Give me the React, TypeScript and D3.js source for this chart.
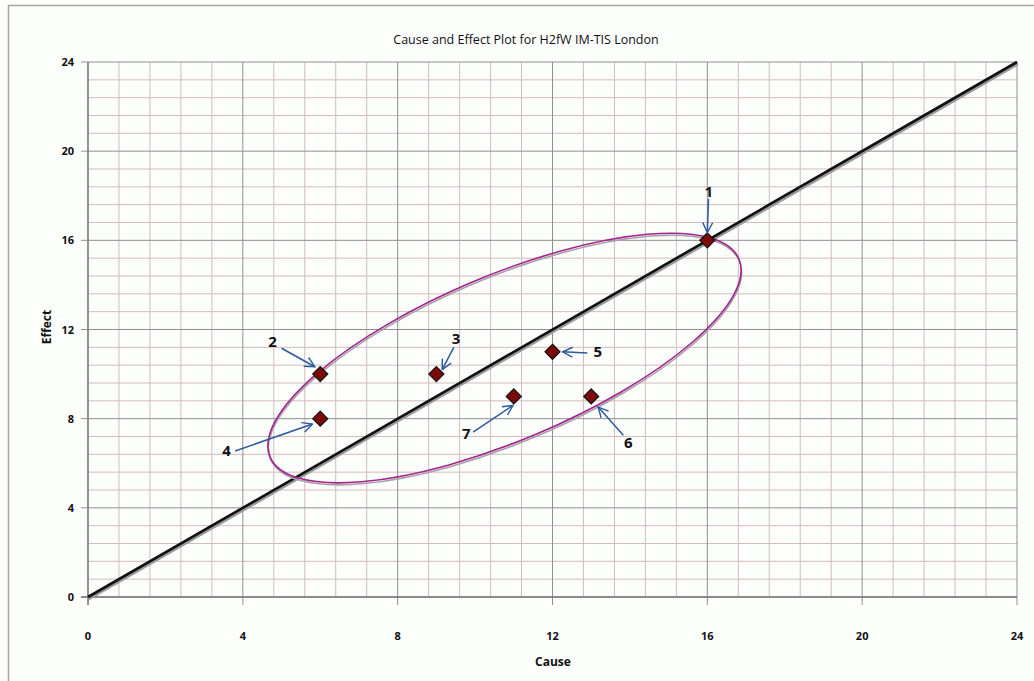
import React from "react";
import * as d3 from "d3";

const title = "Cause and Effect Plot for H2fW IM-TIS London";
const xTitle = "Cause";
const yTitle = "Effect";
const tickValues = [0, 4, 8, 12, 16, 20, 24];
const minorStep = 0.8;

const pointIds = ["1", "2", "3", "4", "5", "6", "7"];
const causeValues = [16, 6, 9, 6, 12, 13, 11];
const effectValues = [16, 10, 10, 8, 11, 9, 9];

// label positions & arrow tips in data units
const labelCause = [16.04, 4.77, 9.51, 3.58, 13.17, 13.96, 9.77];
const labelEffect = [18.18, 11.45, 11.6, 6.56, 11.0, 6.92, 7.34];
const arrowStartCause = [16.03, 5.0, 9.45, 3.8, 12.9, 13.83, 9.95];
const arrowStartEffect = [17.86, 11.16, 11.2, 6.55, 10.95, 7.26, 7.4];
const arrowEndCause = [16.0, 5.86, 9.15, 5.8, 12.26, 13.18, 10.98];
const arrowEndEffect = [16.35, 10.33, 10.2, 7.76, 11.0, 8.52, 8.6];

// ellipse: center (data units), radii in px, rotation in degrees
const ellipseCenter = [10.76, 10.72];
const ellipseRx = 254.5;
const ellipseRy = 82.5;
const ellipseAngle = -22.9;

const W = 1034;
const H = 681;

export default function App() {
  const x = d3.scaleLinear().domain([0, 24]).range([88, 1017]);
  const y = d3.scaleLinear().domain([0, 24]).range([597, 62]);
  const minor = d3.range(0, 24.0001, minorStep).filter((v) => Math.abs(v / 4 - Math.round(v / 4)) > 1e-6);
  const font = "'Open Sans', 'Noto Sans', sans-serif";
  const blue = "#2c5a9e";
  const [cx, cy] = ellipseCenter;
  const diag = d3.line<number>().x((d) => x(d)).y((d) => y(d))([0, 24]) || "";

  return (
    <svg width={W} height={H} style={{ position: "absolute", left: 0, top: 0, background: "#fcfefc" }}>
      <defs>
        <marker id="arr" viewBox="0 0 12 12" refX="11" refY="6" markerWidth="12" markerHeight="12" markerUnits="userSpaceOnUse" orient="auto">
          <path d="M1,1 L11,6 L1,11" fill="none" stroke={blue} strokeWidth={1.4} />
        </marker>
      </defs>
      <rect x={0} y={0} width={W} height={H} fill="#fcfefc" />
      {/* outer chart border */}
      <path d="M8.5,681 L8.5,5.5 L1034,5.5" fill="none" stroke="#aaa5a0" strokeWidth={1.5} />

      {/* minor grid */}
      {minor.map((v) => (
        <g key={"m" + v}>
          <line x1={x(v)} x2={x(v)} y1={y(0)} y2={y(24)} stroke="#d2bcbc" strokeWidth={1} />
          <line x1={x(0)} x2={x(24)} y1={y(v)} y2={y(v)} stroke="#d2bcbc" strokeWidth={1} />
        </g>
      ))}
      {/* major grid */}
      {tickValues.map((v) => (
        <g key={"M" + v}>
          <line x1={x(v)} x2={x(v)} y1={y(0) + 8} y2={y(24)} stroke="#8f8f8f" strokeWidth={1} />
          <line x1={x(0) - 7} x2={x(24)} y1={y(v)} y2={y(v)} stroke="#8f8f8f" strokeWidth={1} />
        </g>
      ))}
      {/* axes */}
      <line x1={x(0)} x2={x(0)} y1={y(0) + 8} y2={y(24)} stroke="#777" strokeWidth={1.3} />
      <line x1={x(0) - 7} x2={x(24)} y1={y(0)} y2={y(0)} stroke="#777" strokeWidth={1.3} />

      {/* tick labels */}
      {tickValues.map((v) => (
        <text key={"xt" + v} x={x(v)} y={640} textAnchor="middle" fontFamily={font} fontWeight="bold" fontSize={11} fill="#111">
          {v}
        </text>
      ))}
      {tickValues.map((v) => (
        <text key={"yt" + v} x={74} y={y(v) + 4} textAnchor="end" fontFamily={font} fontWeight="bold" fontSize={11} fill="#111">
          {v}
        </text>
      ))}

      {/* titles */}
      <text x={526} y={44} textAnchor="middle" fontFamily={font} fontSize={12.5} fill="#111">
        {title}
      </text>
      <text x={553} y={666} textAnchor="middle" fontFamily={font} fontWeight="bold" fontSize={12} fill="#111">
        {xTitle}
      </text>
      <text transform={`translate(51,327) rotate(-90)`} textAnchor="middle" fontFamily={font} fontWeight="bold" fontSize={12} fill="#111">
        {yTitle}
      </text>

      {/* diagonal line with shadow */}
      <path d={diag} transform="translate(0.5,1.8)" stroke="#9a9a9a" strokeWidth={3.5} fill="none" />
      <path d={diag} stroke="#111" strokeWidth={2.6} fill="none" />

      {/* ellipse with shadow */}
      <ellipse
        cx={0}
        cy={0}
        rx={ellipseRx}
        ry={ellipseRy}
        transform={`translate(${x(cx) + 0.5},${y(cy) + 2}) rotate(${ellipseAngle})`}
        fill="none"
        stroke="#a8a0a8"
        strokeWidth={1.6}
      />
      <ellipse
        cx={0}
        cy={0}
        rx={ellipseRx}
        ry={ellipseRy}
        transform={`translate(${x(cx)},${y(cy)}) rotate(${ellipseAngle})`}
        fill="none"
        stroke="#a3238f"
        strokeWidth={1.6}
      />

      {/* markers */}
      {pointIds.map((id, i) => {
        const px = x(causeValues[i]);
        const py = y(effectValues[i]);
        const s = 7.5;
        return (
          <path
            key={"p" + id}
            d={`M${px},${py - s} L${px + s},${py} L${px},${py + s} L${px - s},${py} Z`}
            fill="#7c0a0a"
            stroke="#111"
            strokeWidth={1.2}
          />
        );
      })}

      {/* arrows and labels */}
      {pointIds.map((id, i) => (
        <g key={"a" + id}>
          <line
            x1={x(arrowStartCause[i])}
            y1={y(arrowStartEffect[i])}
            x2={x(arrowEndCause[i])}
            y2={y(arrowEndEffect[i])}
            stroke={blue}
            strokeWidth={1.5}
            markerEnd="url(#arr)"
          />
          <text
            x={x(labelCause[i])}
            y={y(labelEffect[i]) + 5.5}
            textAnchor="middle"
            fontFamily={font}
            fontWeight="bold"
            fontSize={15}
            fill="#111"
          >
            {id}
          </text>
        </g>
      ))}
    </svg>
  );
}
